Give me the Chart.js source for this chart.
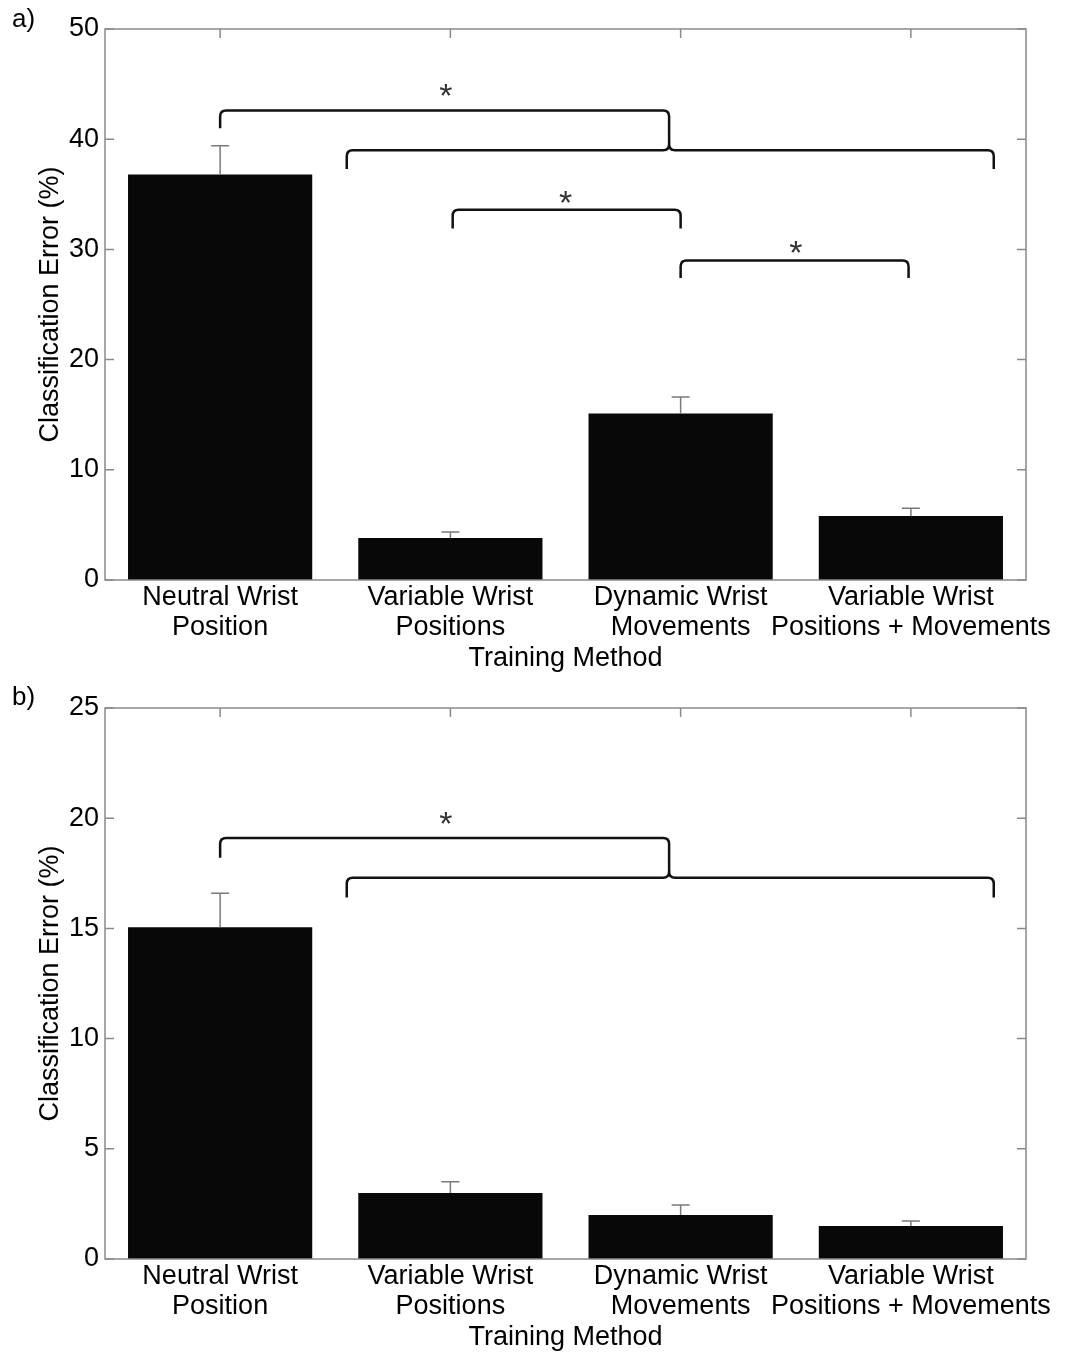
<!DOCTYPE html>
<html>
<head>
<meta charset="utf-8">
<script src="https://cdn.jsdelivr.net/npm/chart.js@4.4.1/dist/chart.umd.min.js"></script>
<style>
  html, body { margin: 0; padding: 0; background: #fff; overflow: hidden; }
  #wrap { position: relative; width: 1068px; height: 1355px; }
  canvas { position: absolute; left: 0; }
  .tag { position: absolute; left: 12px; font: 26px "Liberation Sans", Arial, sans-serif; color: #000; }
</style>
</head>
<body>
<div id="wrap">
  <canvas id="chartA" width="1068" height="676" style="top:0"></canvas>
  <canvas id="chartB" width="1068" height="676" style="top:679px"></canvas>
  <div class="tag" style="top:3px">a)</div>
  <div class="tag" style="top:681px">b)</div>
</div>
<script>
// categories
const labels = [
    ["Neutral Wrist", "Position"],
    ["Variable Wrist", "Positions"],
    ["Dynamic Wrist", "Movements"],
    ["Variable Wrist", "Positions + Movements"]
];

// a) mean classification error and upper error bar
const meanA = [36.8, 3.8, 15.1, 5.8];
const errA = [2.6, 0.55, 1.5, 0.7];
const ticksA = [0, 10, 20, 30, 40, 50];

// b)
const meanB = [15.05, 3.0, 2.0, 1.5];
const errB = [1.55, 0.5, 0.45, 0.22];
const ticksB = [0, 5, 10, 15, 20, 25];

// significance markers (x in category units, y in %)
// group bracket: one bar vs a group, joined at "join"
const groupA = { from: 1.0, join: 2.95, top: 42.6, tip: 41.0, left: 1.55, right: 4.36, level: 39.0, levelTip: 37.3 };
const pairsA = [[2.01, 3.0, 33.6, 31.9], [3.0, 3.99, 29.0, 27.4]];
const starsA = [[1.98, 44.4], [2.5, 34.7], [3.5, 30.2]];

const groupB = { from: 1.0, join: 2.95, top: 19.1, tip: 18.2, left: 1.55, right: 4.36, level: 17.3, levelTip: 16.4 };
const pairsB = [];
const starsB = [[1.98, 20.0]];

const FONT = '"Liberation Sans", Arial, sans-serif';
const INK = '#000';

function corner(ctx, x0, y0, cx, cy, x1, y1) {
    ctx.lineTo(x0, y0);
    ctx.quadraticCurveTo(cx, cy, x1, y1);
}

const decor = {
    id: 'decor',
    afterDatasetsDraw(chart, args, opts) {
        const { ctx, chartArea: a, scales: { x, y } } = chart;
        const xp = v => x.getPixelForValue(v - 1);
        const r = 6;
        ctx.save();

        // error bars (upper only)
        ctx.strokeStyle = '#7a7a7a';
        ctx.lineWidth = 1.5;
        opts.mean.forEach((m, i) => {
            const cx = x.getPixelForValue(i);
            const y0 = y.getPixelForValue(m);
            const y1 = y.getPixelForValue(m + opts.err[i]);
            ctx.beginPath();
            ctx.moveTo(cx, y0);
            ctx.lineTo(cx, y1);
            ctx.moveTo(cx - 9, y1);
            ctx.lineTo(cx + 9, y1);
            ctx.stroke();
        });

        // box with inward ticks
        ctx.strokeStyle = '#8a8a8a';
        ctx.lineWidth = 1.5;
        ctx.strokeRect(a.left, a.top, a.right - a.left, a.bottom - a.top);
        ctx.beginPath();
        y.ticks.forEach(t => {
            const py = y.getPixelForValue(t.value);
            ctx.moveTo(a.left, py); ctx.lineTo(a.left + 9, py);
            ctx.moveTo(a.right, py); ctx.lineTo(a.right - 9, py);
        });
        opts.mean.forEach((m, i) => {
            const px = x.getPixelForValue(i);
            ctx.moveTo(px, a.top); ctx.lineTo(px, a.top + 9);
        });
        ctx.stroke();

        // brackets
        ctx.strokeStyle = '#111';
        ctx.lineWidth = 2.5;
        ctx.lineJoin = 'round';
        const g = opts.group;
        const gy = y.getPixelForValue(g.level);
        const jx = xp(g.join);
        // single-bar arm
        ctx.beginPath();
        const ty = y.getPixelForValue(g.top);
        ctx.moveTo(xp(g.from), y.getPixelForValue(g.tip));
        corner(ctx, xp(g.from), ty + r, xp(g.from), ty, xp(g.from) + r, ty);
        corner(ctx, jx - r, ty, jx, ty, jx, ty + r);
        ctx.lineTo(jx, gy - r);
        ctx.stroke();
        // group arm with cusp
        ctx.beginPath();
        const gl = xp(g.left), gr = xp(g.right), gt = y.getPixelForValue(g.levelTip);
        ctx.moveTo(gl, gt);
        corner(ctx, gl, gy + r, gl, gy, gl + r, gy);
        corner(ctx, jx - r, gy, jx, gy, jx, gy - r);
        ctx.quadraticCurveTo(jx, gy, jx + r, gy);
        corner(ctx, gr - r, gy, gr, gy, gr, gy + r);
        ctx.lineTo(gr, gt);
        ctx.stroke();
        // pair brackets
        opts.pairs.forEach(([x0, x1, lv, tip]) => {
            const l = xp(x0), rr = xp(x1), py = y.getPixelForValue(lv), pt = y.getPixelForValue(tip);
            ctx.beginPath();
            ctx.moveTo(l, pt);
            corner(ctx, l, py + r, l, py, l + r, py);
            corner(ctx, rr - r, py, rr, py, rr, py + r);
            ctx.lineTo(rr, pt);
            ctx.stroke();
        });
        // asterisks
        ctx.fillStyle = '#333';
        ctx.font = '34px ' + FONT;
        ctx.textAlign = 'center';
        ctx.textBaseline = 'middle';
        opts.stars.forEach(([sx, sy]) => {
            ctx.fillText('*', xp(sx), y.getPixelForValue(sy) + 7);
        });
        ctx.restore();
    }
};

function makeChart(id, mean, err, ticks, group, pairs, stars) {
    return new Chart(document.getElementById(id), {
        type: 'bar',
        data: {
            labels: labels,
            datasets: [{
                data: mean,
                backgroundColor: '#080808',
                borderWidth: 0,
                barPercentage: 0.8,
                categoryPercentage: 1.0
            }]
        },
        options: {
            responsive: false,
            animation: false,
            layout: { padding: { left: 0, right: 42, top: 29, bottom: 0 } },
            plugins: {
                legend: { display: false },
                tooltip: { enabled: false },
                decor: { mean, err, group, pairs, stars }
            },
            scales: {
                x: {
                    grid: { display: false, drawTicks: false },
                    border: { display: false },
                    ticks: {
                        color: INK, padding: 3, maxRotation: 0, autoSkip: false,
                        font: { family: FONT, size: 27, lineHeight: 1.1 }
                    },
                    title: {
                        display: true, text: 'Training Method', color: INK,
                        font: { family: FONT, size: 27, lineHeight: 1.1 },
                        padding: { top: 0, bottom: 3 }
                    },
                    afterFit: s => { s.height = 96; }
                },
                y: {
                    min: ticks[0],
                    max: ticks[ticks.length - 1],
                    afterBuildTicks: s => { s.ticks = ticks.map(v => ({ value: v })); },
                    grid: { display: false, drawTicks: false },
                    border: { display: false },
                    ticks: { color: INK, padding: 6, font: { family: FONT, size: 27 } },
                    title: {
                        display: true, text: 'Classification Error (%)', color: INK,
                        font: { family: FONT, size: 27, lineHeight: 1.2 },
                        padding: { top: 34, bottom: 0 }
                    },
                    afterFit: s => { s.width = 105; }
                }
            }
        },
        plugins: [decor]
    });
}

makeChart('chartA', meanA, errA, ticksA, groupA, pairsA, starsA);
makeChart('chartB', meanB, errB, ticksB, groupB, pairsB, starsB);
</script>
</body>
</html>
